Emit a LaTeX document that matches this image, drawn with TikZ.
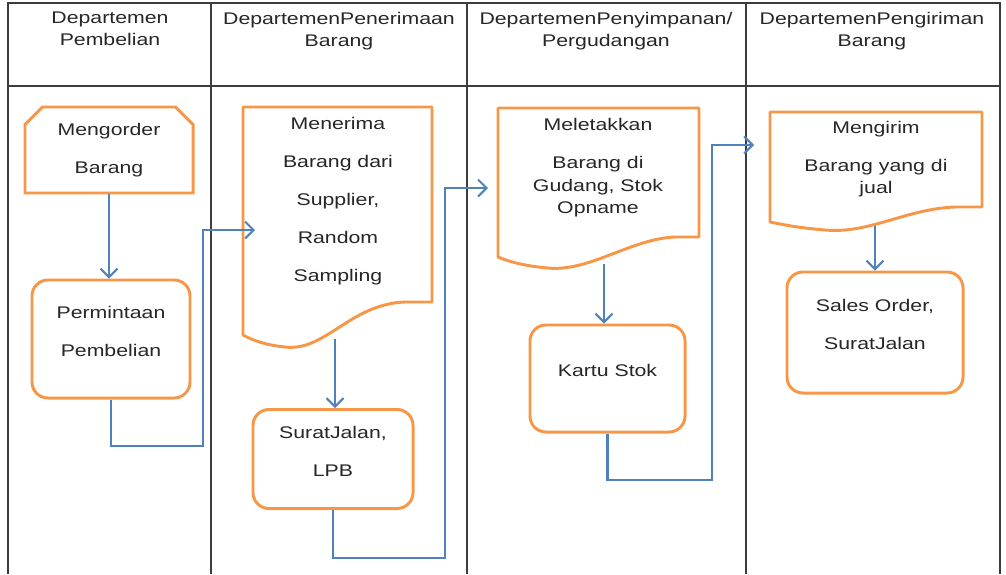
\documentclass[tikz,border=0pt]{standalone}
\usepackage{fontspec}
\setmainfont{Liberation Sans}[FakeStretch=1.26]
\usetikzlibrary{positioning, arrows.meta}
\usetikzlibrary{shapes.misc}

\definecolor{boxorange}{RGB}{247,150,70}
\definecolor{flowblue}{RGB}{79,129,189}
\definecolor{laneline}{RGB}{60,60,60}

\tikzset{
  lane/.style={draw=laneline, line width=1pt},
  boxtext/.style={font=\fontsize{12}{16}\selectfont, align=center, text=black!85},
  proses/.style={boxtext, draw=boxorange, line width=2.1pt, rounded corners=0.4cm, text depth=0.4cm},
  manual/.style={boxtext, draw=boxorange, line width=2.1pt, chamfered rectangle,
    chamfered rectangle corners={north west,north east},
    chamfered rectangle xsep=0.22cm, chamfered rectangle ysep=0.22cm},
  docline/.style={draw=boxorange, line width=2.1pt, line join=round},
  flow/.style={draw=flowblue, line width=1.5pt, -{Straight Barb[length=6pt,width=12pt]}},
  head/.style={font=\fontsize{12}{15.6}\selectfont, align=center, anchor=north, text=black!85}
}

\begin{document}
\begin{tikzpicture}[x=0.025cm, y=-0.025cm]
\useasboundingbox (0,0) rectangle (1006,574);

% lajur
\draw[lane] (8,574) -- (8,3) -- (1000,3) -- (1000,574);
\draw[lane] (211,3) -- (211,574);
\draw[lane] (467,3) -- (467,574);
\draw[lane] (746,3) -- (746,574);
\draw[lane, line width=1.5pt] (8,86) -- (1000,86);

\node[head] (h1) at (110,7) {Departemen\\Pembelian};
\node[head] (h2) at (339,7) {DepartemenPenerimaan\\Barang};
\node[head] (h3) at (606,7) {DepartemenPenyimpanan/\\Pergudangan};
\node[head] (h4) at (872,7) {DepartemenPengiriman\\Barang};

% pembelian
\node[manual, minimum width=4.2cm, minimum height=2.15cm] (order) at (109,150)
  {Mengorder\\[11pt]Barang};
\node[proses, minimum width=3.95cm, minimum height=2.95cm] (minta) at (111,339)
  {Permintaan\\[11pt]Pembelian};

% penerimaan
\draw[docline] (243,107) -- (432,107) -- (432,302) -- (405,302)
  .. controls (350,304) and (325,352) .. (285,347)
  .. controls (265,345) and (252,340) .. (243,335) -- cycle;
\node[boxtext] (terima) at (338,201)
  {Menerima\\[11pt]Barang dari\\[11pt]Supplier,\\[11pt]Random\\[11pt]Sampling};
\node[proses, minimum width=4cm, minimum height=2.475cm] (surat) at (333,459)
  {SuratJalan,\\[11pt]LPB};

% penyimpanan
\draw[docline] (498,108) -- (699,108) -- (699,237) -- (675,237)
  .. controls (630,239) and (590,272) .. (548,268)
  .. controls (525,266) and (510,262) .. (498,257) -- cycle;
\node[boxtext] (letak) at (598,168)
  {Meletakkan\\[11pt]Barang di\\Gudang, Stok\\Opname};
\node[proses, minimum width=3.875cm, minimum height=2.675cm] (kartu) at (607.5,378.5)
  {Kartu Stok};

% pengiriman
\draw[docline] (770,112) -- (982,112) -- (982,207) -- (955,207)
  .. controls (905,209) and (870,234) .. (825,230)
  .. controls (800,228) and (785,225) .. (770,222) -- cycle;
\node[boxtext] (kirim) at (876,159)
  {Mengirim\\[11pt]Barang yang di\\jual};
\node[proses, minimum width=4.4cm, minimum height=3.025cm] (sales) at (875,332.5)
  {Sales Order,\\[11pt]SuratJalan};

% titik sambung
\coordinate (terima-in) at (255,230);
\coordinate (terima-out) at (335,339);
\coordinate (letak-in) at (488,188);
\coordinate (letak-out) at (604,264);
\coordinate (kirim-in) at (754,145);
\coordinate (kirim-out) at (875,226);
\coordinate (belok1) at (203,446);
\coordinate (belok2) at (445,558);
\coordinate (belok3) at (712,480);

% alur
\draw[flow] (order.south) -- (order.south |- minta.north);
\draw[flow] (minta.south) |- (belok1) |- (terima-in);
\draw[flow] (terima-out) -- (terima-out |- surat.north);
\draw[flow] (surat.south) |- (belok2) |- (letak-in);
\draw[flow] (letak-out) -- (letak-out |- kartu.north);
\draw[flow] (kartu.south) |- (belok3) |- (kirim-in);
\draw[flow] (kirim-out) -- (kirim-out |- sales.north);
\end{tikzpicture}
\end{document}
